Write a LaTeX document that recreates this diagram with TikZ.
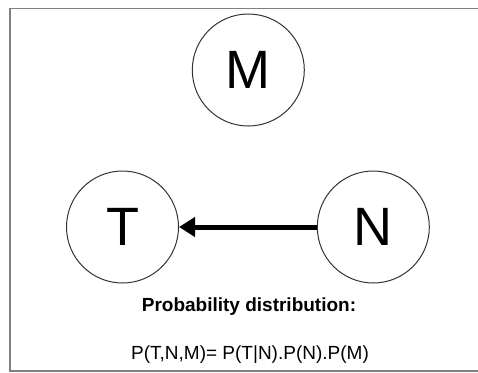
\documentclass[tikz,border=0pt]{standalone}
\usepackage{fontspec}
\setmainfont{Liberation Sans}
\usetikzlibrary{arrows.meta}
\begin{document}
\begin{tikzpicture}[x=1pt,y=-1pt,
  var/.style={circle,draw=black!80,line width=1pt,minimum size=112pt,inner sep=0pt,
    font=\fontsize{54}{60}\selectfont},
  frameline/.style={draw=black!50,line width=1.5pt},
  edge/.style={line width=5pt,-{Triangle[length=16pt,width=19pt]}},
  caption/.style={font=\fontsize{19}{23}\selectfont}]
\useasboundingbox (0,0) rectangle (478,372);
% open frame: top, left and bottom sides
\draw[frameline] (478,8.5) -- (10,8.5) -- (10,371) -- (478,371);
% variables
\node[var] (M) at (248.3,70) {M};
\node[var] (T) at (122.5,227) {T};
\node[var] (N) at (373.3,227) {N};
% dependency
\draw[edge] (N) -- (T);
% factorisation
\node[caption,font=\fontsize{19}{23}\selectfont\bfseries] (title) at (249,307) {Probability distribution:};
\node[caption,anchor=base] (formula) at (250,359) {P(T,N,M)= P(T|N).P(N).P(M)};
\end{tikzpicture}
\end{document}
